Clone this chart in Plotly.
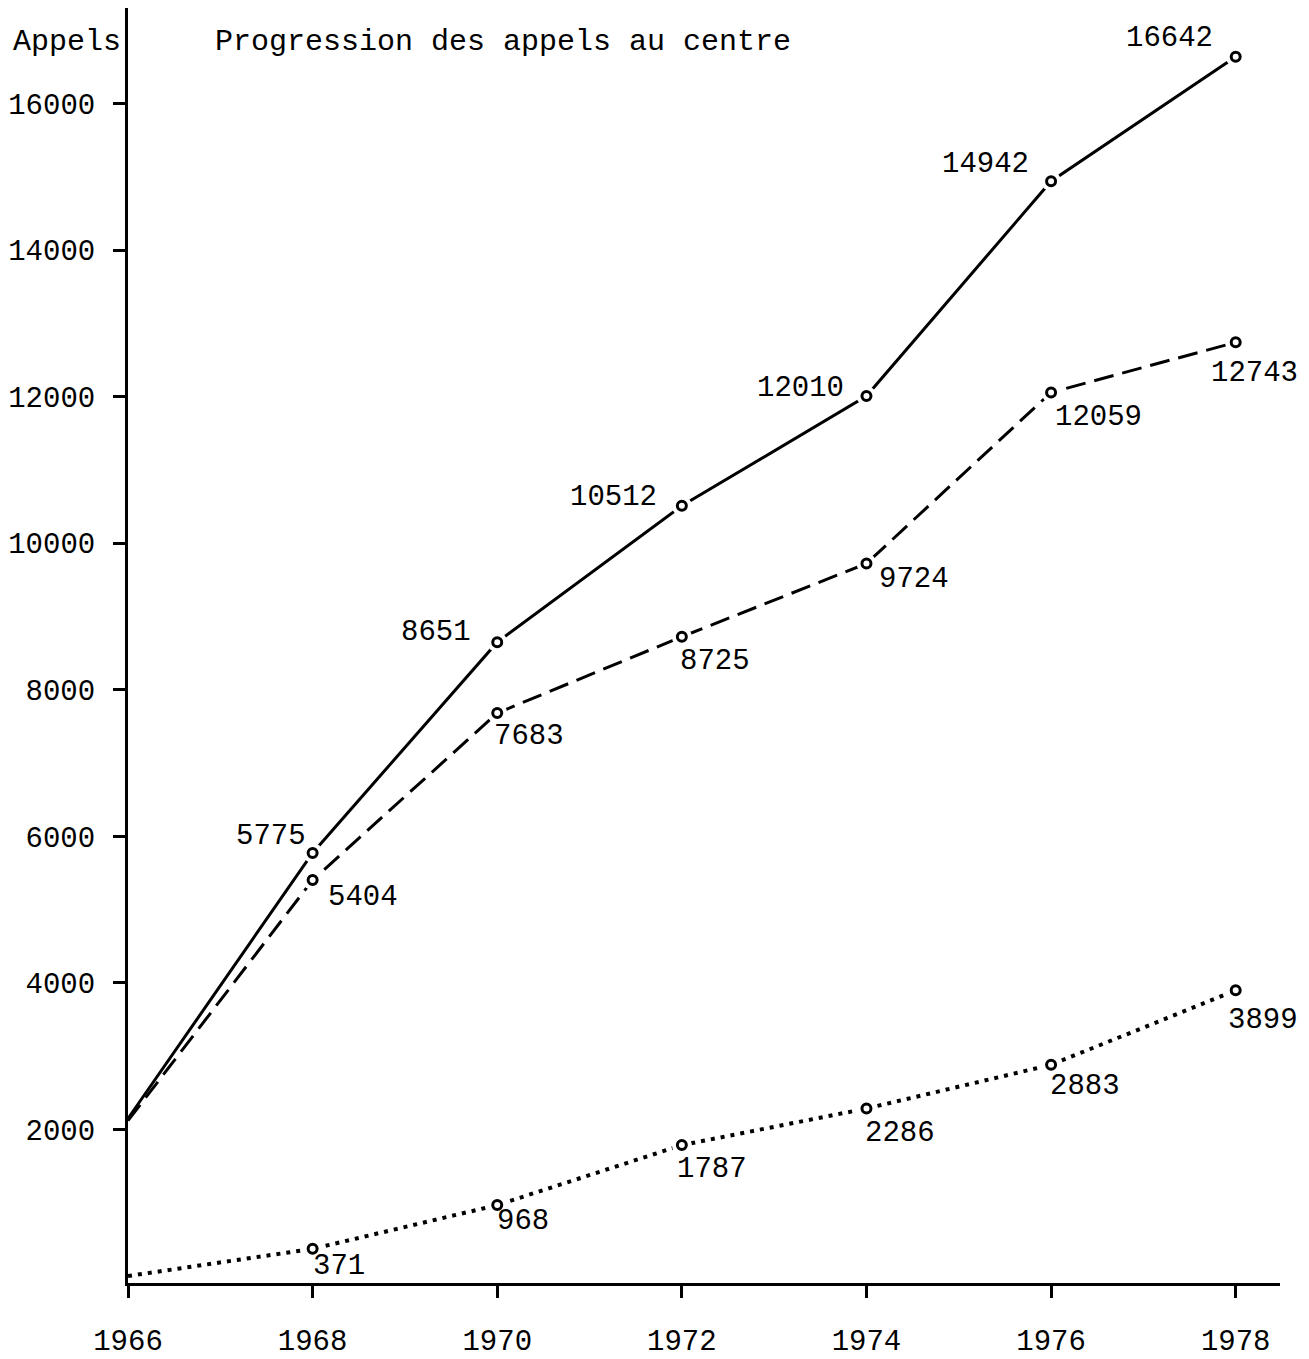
import plotly.graph_objects as go

years = [1966, 1968, 1970, 1972, 1974, 1976, 1978]
total_calls = [2150, 5775, 8651, 10512, 12010, 14942, 16642]
dashed_calls = [2120, 5404, 7683, 8725, 9724, 12059, 12743]
dotted_calls = [0, 371, 968, 1787, 2286, 2883, 3899]

x_ticks = [1966, 1968, 1970, 1972, 1974, 1976, 1978]
y_ticks = [2000, 4000, 6000, 8000, 10000, 12000, 14000, 16000]

title_text = "Progression des appels au centre"
y_title = "Appels"

# label offsets (pixels) for points 1968..1978
solid_dx = [-5, -24, -23, -20, -20, -21]
solid_dy = [16, 10, 8, 8, 17, 18]
dash_dx = [13, -5, -4, 11, 2, -27]
dash_dy = [-17, -23, -25, -16, -25, -31]
dot_dx = [-2, -2, -7, -3, -3, -10]
dot_dy = [-18, -16, -24, -25, -22, -30]

FONT = "Liberation Mono"
NUMSIZE = 29

fig = go.Figure()

def add_series(ys, dash, width):
    fig.add_trace(go.Scatter(x=years, y=ys, mode="lines",
                             line=dict(color="black", width=width, dash=dash),
                             hoverinfo="skip", showlegend=False))

add_series(total_calls, "solid", 3)
add_series(dashed_calls, "20px,9px", 3)
add_series(dotted_calls, "4px,6px", 4)

# white halos + open circle markers (skip the 1966 starting point)
for ys in (total_calls, dashed_calls, dotted_calls):
    fig.add_trace(go.Scatter(x=years[1:], y=ys[1:], mode="markers",
                             marker=dict(size=20, color="white", line=dict(width=0)),
                             hoverinfo="skip", showlegend=False))
for ys in (total_calls, dashed_calls, dotted_calls):
    fig.add_trace(go.Scatter(x=years[1:], y=ys[1:], mode="markers",
                             marker=dict(size=9, color="white",
                                         line=dict(width=3, color="black")),
                             showlegend=False))

annotations = []
for i, (x, y) in enumerate(zip(years[1:], total_calls[1:])):
    annotations.append(dict(x=x, y=y, text=str(y), showarrow=False,
                            xanchor="right", yanchor="middle",
                            xshift=solid_dx[i], yshift=solid_dy[i],
                            font=dict(family=FONT, size=NUMSIZE, color="black")))
for i, (x, y) in enumerate(zip(years[1:], dashed_calls[1:])):
    annotations.append(dict(x=x, y=y, text=str(y), showarrow=False,
                            xanchor="left", yanchor="middle",
                            xshift=dash_dx[i], yshift=dash_dy[i],
                            font=dict(family=FONT, size=NUMSIZE, color="black")))
for i, (x, y) in enumerate(zip(years[1:], dotted_calls[1:])):
    annotations.append(dict(x=x, y=y, text=str(y), showarrow=False,
                            xanchor="left", yanchor="middle",
                            xshift=dot_dx[i], yshift=dot_dy[i],
                            font=dict(family=FONT, size=NUMSIZE, color="black")))

annotations.append(dict(xref="paper", yref="paper", x=0, y=1, xanchor="right",
                        yanchor="top", xshift=-5, yshift=-15, text=y_title,
                        showarrow=False,
                        font=dict(family=FONT, size=30, color="black")))
annotations.append(dict(xref="paper", yref="paper", x=0, y=1, xanchor="left",
                        yanchor="top", xshift=85, yshift=-15, text=title_text,
                        showarrow=False,
                        font=dict(family=FONT, size=30, color="black")))

fig.update_layout(
    width=1301, height=1351,
    margin=dict(l=112, r=29, t=0, b=70),
    paper_bgcolor="white", plot_bgcolor="white",
    annotations=annotations,
    showlegend=False,
    xaxis=dict(range=[1966, 1978.48], tickvals=x_ticks, ticktext=[str(v) for v in x_ticks],
               showgrid=False, zeroline=False, showline=True, linecolor="black",
               linewidth=3, ticks="outside", ticklen=12, tickwidth=3, tickcolor="black",
               ticklabelstandoff=17,
               tickfont=dict(family=FONT, size=NUMSIZE, color="black")),
    yaxis=dict(range=[-95, 17306], tickvals=y_ticks, ticktext=[str(v) for v in y_ticks],
               showgrid=False, zeroline=False, showline=True, linecolor="black",
               linewidth=3, ticks="outside", ticklen=12, tickwidth=3, tickcolor="black",
               ticklabelstandoff=12,
               tickfont=dict(family=FONT, size=NUMSIZE, color="black")),
)

fig.write_html("out.html")
